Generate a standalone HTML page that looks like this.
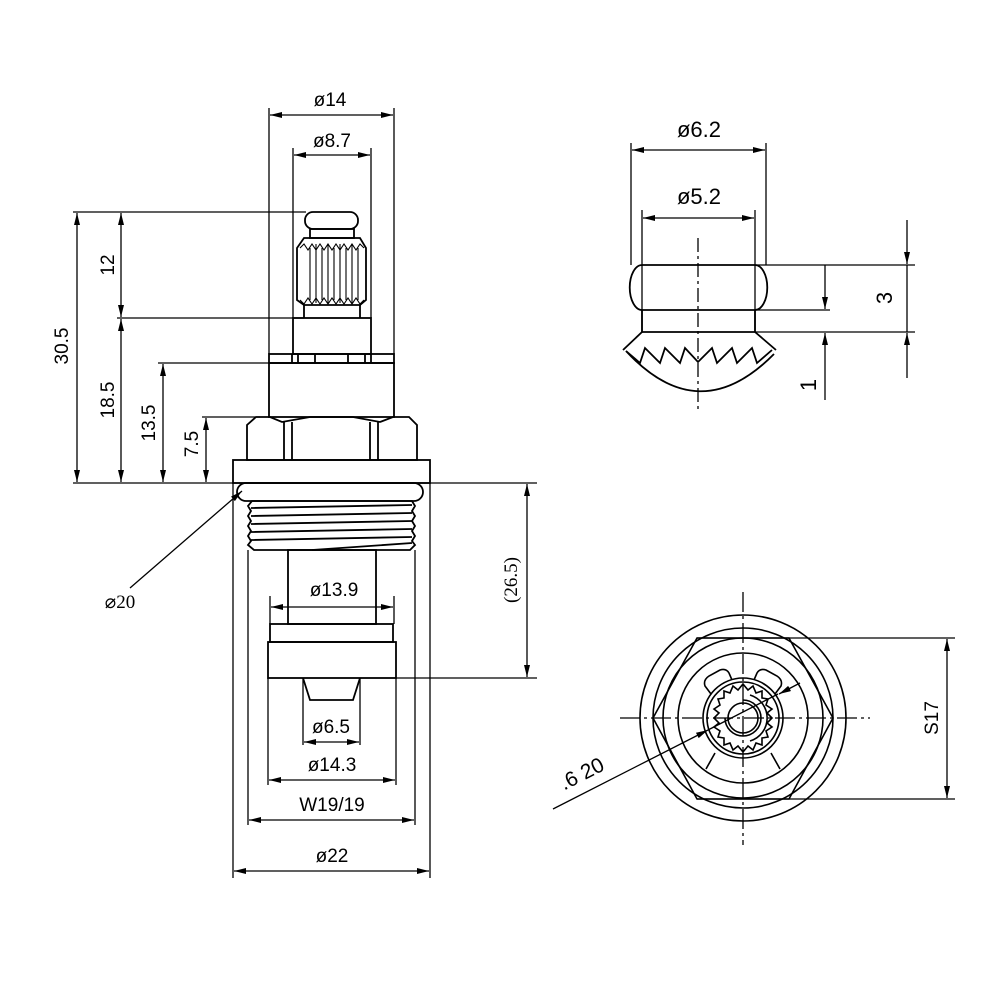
<!DOCTYPE html>
<html><head><meta charset="utf-8"><style>html,body{margin:0;padding:0;background:#fff}svg{display:block}</style></head>
<body>
<svg width="1000" height="1000" viewBox="0 0 1000 1000" xmlns="http://www.w3.org/2000/svg" font-family="Liberation Sans, DejaVu Sans, sans-serif">
<defs>
<marker id="a" viewBox="0 0 12 6" refX="12" refY="3" markerWidth="12" markerHeight="6" orient="auto-start-reverse" markerUnits="userSpaceOnUse"><path d="M0,0 L12,3 L0,6 Z" fill="#000"/></marker>
</defs>
<g stroke="#000" stroke-width="1.3" fill="none">
<line x1="73" y1="212" x2="306" y2="212"/>
<line x1="117" y1="318" x2="304" y2="318"/>
<line x1="158" y1="363" x2="269" y2="363"/>
<line x1="202" y1="417" x2="260" y2="417"/>
<line x1="73" y1="483" x2="537" y2="483"/>
<line x1="77" y1="213" x2="77" y2="482" marker-start="url(#a)" marker-end="url(#a)"/>
<line x1="121" y1="213" x2="121" y2="317" marker-start="url(#a)" marker-end="url(#a)"/>
<line x1="121" y1="319" x2="121" y2="482" marker-start="url(#a)" marker-end="url(#a)"/>
<line x1="163" y1="364" x2="163" y2="482" marker-start="url(#a)" marker-end="url(#a)"/>
<line x1="206" y1="418" x2="206" y2="482" marker-start="url(#a)" marker-end="url(#a)"/>
<line x1="396" y1="678" x2="537" y2="678"/>
<line x1="527" y1="484" x2="527" y2="677" marker-start="url(#a)" marker-end="url(#a)"/>
<line x1="269" y1="108" x2="269" y2="354"/>
<line x1="394" y1="108" x2="394" y2="354"/>
<line x1="270" y1="115" x2="393" y2="115" marker-start="url(#a)" marker-end="url(#a)"/>
<line x1="293" y1="148" x2="293" y2="318"/>
<line x1="371" y1="148" x2="371" y2="318"/>
<line x1="294" y1="155" x2="370" y2="155" marker-start="url(#a)" marker-end="url(#a)"/>
<line x1="233" y1="483" x2="233" y2="878"/>
<line x1="430" y1="483" x2="430" y2="878"/>
<line x1="248" y1="550" x2="248" y2="825"/>
<line x1="415" y1="550" x2="415" y2="825"/>
<line x1="268" y1="678" x2="268" y2="785"/>
<line x1="396" y1="678" x2="396" y2="785"/>
<line x1="303" y1="678" x2="303" y2="745"/>
<line x1="360" y1="678" x2="360" y2="745"/>
<line x1="270" y1="596" x2="270" y2="624"/>
<line x1="394" y1="596" x2="394" y2="624"/>
<line x1="271" y1="607" x2="393" y2="607" marker-start="url(#a)" marker-end="url(#a)"/>
<line x1="304" y1="742" x2="359" y2="742" marker-start="url(#a)" marker-end="url(#a)"/>
<line x1="269" y1="780" x2="395" y2="780" marker-start="url(#a)" marker-end="url(#a)"/>
<line x1="249" y1="820" x2="414" y2="820" marker-start="url(#a)" marker-end="url(#a)"/>
<line x1="234" y1="871" x2="429" y2="871" marker-start="url(#a)" marker-end="url(#a)"/>
<g stroke-width="1.8">
<rect x="305" y="212" width="53" height="17" rx="8"/>
<rect x="310" y="229" width="44" height="9"/>
<path d="M304,238 L360,238 L366,248 L366,300 L360,305 L304,305 L297,300 L297,248 Z"/>
<path d="M304,305 L304,318 M360,305 L360,318"/>
<rect x="293" y="318" width="78" height="36"/>
<rect x="269" y="354" width="125" height="9"/>
<path d="M292,354 V363 M298,354 V363 M315,354 V363 M348,354 V363 M365,354 V363 M371,354 V363"/>
<rect x="269" y="363" width="125" height="54"/>
<path d="M247,460 L247,425 L256,417 L270,417 L282,422 L310,417 L353,417 L380,422 L393,417 L409,417 L417,425 L417,460 Z"/>
<path d="M284,422 V460 M292,422 V460 M370,422 V460 M378,422 V460"/>
<rect x="233" y="460" width="197" height="23"/>
<rect x="237" y="483" width="186" height="18" rx="9"/>
<path d="M252,501 L412,501 L415,506 L412,511 L415,516 L412,521 L415,526 L412,531 L415,536 L412,541 L415,545 L410,550 L254,550 L248,545 L251,541 L248,536 L251,531 L248,526 L251,521 L248,516 L251,511 L248,506 Z"/>
<path d="M251,508 L412,505 M251,516 L412,513 M251,524 L412,521 M251,532 L412,529 M251,540 L412,537 M312,550 L412,543"/>
<rect x="288" y="550" width="88" height="74"/>
<rect x="270" y="624" width="123" height="18"/>
<rect x="268" y="642" width="128" height="36"/>
<path d="M303,678 L310,700 L353,700 L360,678"/>
</g>
<g stroke-width="1.1">
<path d="M310,248 V300 M316,244 V303 M322,248 V300 M328,244 V303 M334,248 V300 M340,244 V303 M346,248 V300 M352,244 V303 M358,248 V300"/>
<path d="M300,248 L304,244 L308,250 L312,244 L316,250 L320,244 L324,250 L328,244 L332,250 L336,244 L340,250 L344,244 L348,250 L352,244 L356,250 L360,244 L364,248"/>
<path d="M300,300 L304,304 L308,298 L312,304 L316,298 L320,304 L324,298 L328,304 L332,298 L336,304 L340,298 L344,304 L348,298 L352,304 L356,298 L360,304 L364,300"/>
</g>
<line x1="130" y1="588" x2="242" y2="491" marker-end="url(#a)"/>

<line x1="631" y1="143" x2="631" y2="265"/>
<line x1="766" y1="143" x2="766" y2="265"/>
<line x1="632" y1="150" x2="765" y2="150" marker-start="url(#a)" marker-end="url(#a)"/>
<line x1="642" y1="210" x2="642" y2="332"/>
<line x1="755" y1="210" x2="755" y2="332"/>
<line x1="643" y1="218" x2="754" y2="218" marker-start="url(#a)" marker-end="url(#a)"/>
<line x1="755" y1="265" x2="915" y2="265"/>
<line x1="755" y1="332" x2="915" y2="332"/>
<line x1="755" y1="310" x2="830" y2="310"/>
<line x1="907" y1="220" x2="907" y2="264" marker-end="url(#a)"/>
<line x1="907" y1="265" x2="907" y2="332"/>
<line x1="907" y1="378" x2="907" y2="333" marker-end="url(#a)"/>
<line x1="825" y1="265" x2="825" y2="309" marker-end="url(#a)"/>
<line x1="825" y1="400" x2="825" y2="333" marker-end="url(#a)"/>
<g stroke-width="1.8">
<path d="M642,265 L755,265 A12,22 0 0 1 755,310 L642,310 A12,22 0 0 1 642,265 Z"/>
<path d="M642,310 V332 H755 V310"/>
<path d="M642,332 L623,350 M755,332 L776,350"/>
<path d="M626,351 Q699,430 774,354"/>
<path d="M626,351 L640,363 L645,348 L660,363 L665,348 L680,363 L685,348 L698,362 L712,348 L717,363 L732,348 L737,363 L752,348 L757,363 L772,350"/>
</g>
<line x1="698" y1="238" x2="698" y2="410" stroke-dasharray="14,4,3,4"/>

<g stroke-dasharray="20,4,3,4">
<line x1="620" y1="718" x2="870" y2="718"/>
<line x1="743" y1="592" x2="743" y2="845"/>
</g>
<g stroke-width="1.6">
<circle cx="743" cy="718" r="103"/>
<circle cx="743" cy="718" r="90"/>
<circle cx="743" cy="718" r="80"/>
<circle cx="743" cy="718" r="65"/>
<polygon points="653,718 697,638 789,638 833,718 789,799 697,799"/>
<circle cx="743" cy="718" r="40"/>
<circle cx="743" cy="718" r="36"/>
<circle cx="743" cy="718" r="15"/>
<path d="M743,700 A18,18 0 1 1 725,718 M750,695 A24,24 0 0 1 750,741"/>
<path d="M711,694 L705,686 Q703,680 709,676 L720,670 Q726,668 729,673 L732,680 M775,694 L781,686 Q783,680 777,676 L766,670 Q760,668 757,673 L754,680"/>
<path d="M715,753 L706,769 M771,753 L780,769"/>
<path d="M743,684 L748,690 L753,686 L756,693 L762,691 L762,698 L768,699 L766,705 L772,709 L767,713 L772,718 L767,723 L772,727 L766,731 L768,737 L762,738 L762,745 L756,743 L753,750 L748,746 L743,752 L738,746 L733,750 L730,743 L724,745 L724,738 L718,737 L720,731 L714,727 L719,723 L714,718 L719,713 L714,709 L720,705 L718,699 L724,698 L724,691 L730,693 L733,686 L738,690 Z"/>
</g>
<line x1="697" y1="638" x2="955" y2="638"/>
<line x1="697" y1="799" x2="955" y2="799"/>
<line x1="947" y1="639" x2="947" y2="798" marker-start="url(#a)" marker-end="url(#a)"/>
<line x1="553" y1="809" x2="708" y2="730" marker-end="url(#a)"/>
<line x1="708" y1="730" x2="778" y2="694"/>
<line x1="800" y1="683" x2="779" y2="694" marker-end="url(#a)"/>
</g>
<g fill="#000" font-size="19" text-anchor="middle">
<text x="330" y="106">ø14</text>
<text x="332" y="147">ø8.7</text>
<text x="334" y="596">ø13.9</text>
<text x="331" y="733">ø6.5</text>
<text x="332" y="771">ø14.3</text>
<text x="332" y="811">W19/19</text>
<text x="332" y="862">ø22</text>
<text transform="translate(114,265) rotate(-90)">12</text>
<text transform="translate(68,346) rotate(-90)">30.5</text>
<text transform="translate(114,400) rotate(-90)">18.5</text>
<text transform="translate(155,423) rotate(-90)">13.5</text>
<text transform="translate(198,444) rotate(-90)">7.5</text>
<text font-family="Liberation Serif, serif" transform="translate(517,580) rotate(-90)">(26.5)</text>
<text font-family="Liberation Serif, serif" x="120" y="608">⌀20</text>
<text font-size="22" x="699" y="137">ø6.2</text>
<text font-size="22" x="699" y="204">ø5.2</text>
<text font-size="22" transform="translate(892,298) rotate(-90)">3</text>
<text font-size="22" transform="translate(816,385) rotate(-90)">1</text>
<text transform="translate(938,718) rotate(-90)">S17</text>
<text font-size="21" transform="translate(585,780) rotate(-27)">.6 20</text>
</g>
</svg>
</body></html>
